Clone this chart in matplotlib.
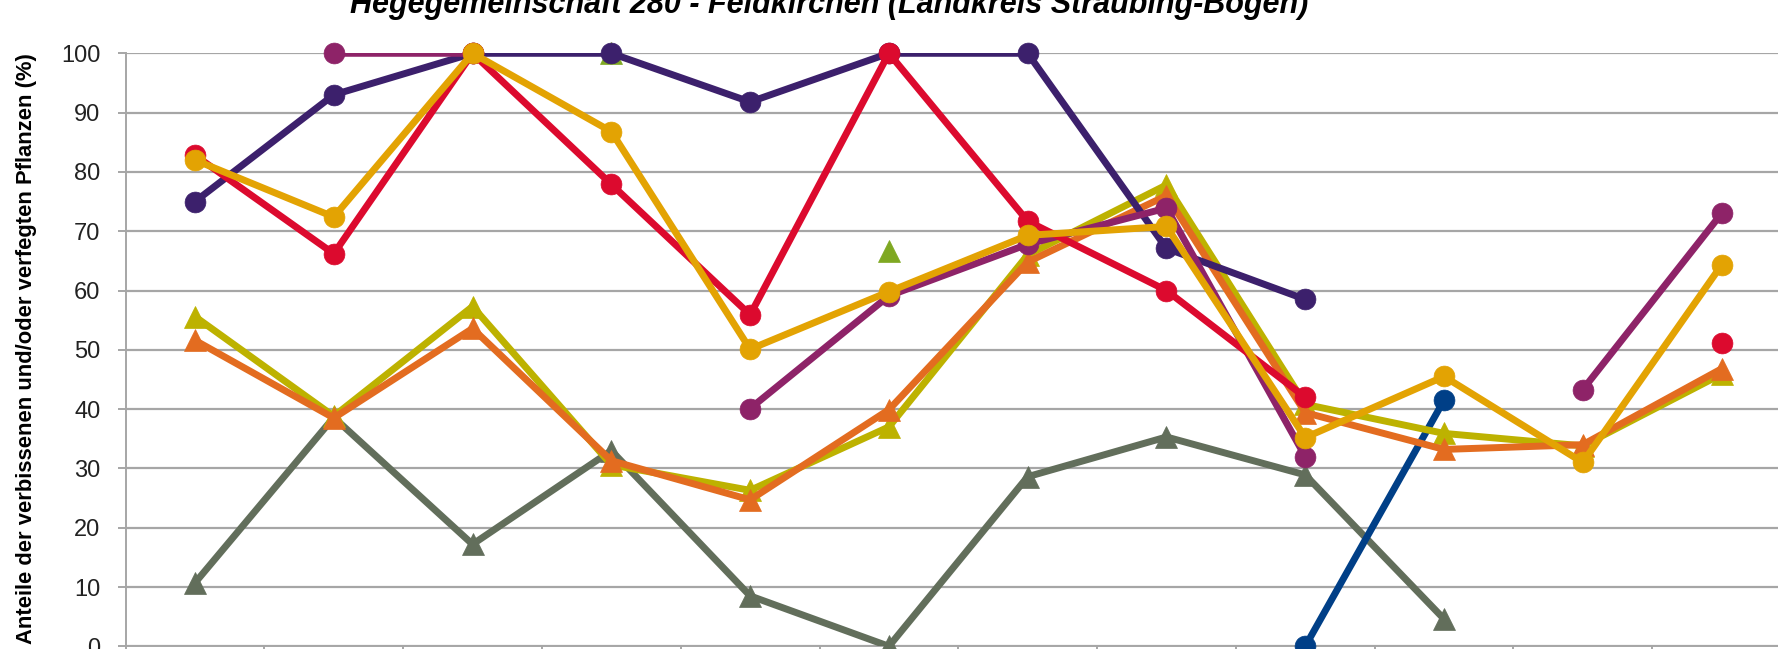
import numpy as np
import matplotlib
matplotlib.use("Agg")
import matplotlib.pyplot as plt
from matplotlib import font_manager as fm

nan = np.nan

# ---- data ----
categories = list(range(1, 13))
dark_purple = [75.0, 93.0, 100, 100, 91.8, 100, 100, 67.1, 58.5, nan, nan, nan]
red = [82.8, 66.2, 100, 77.9, 55.9, 100, 71.7, 60.0, 42.0, nan, nan, 51.1]
magenta = [nan, 100, 100, nan, 40.1, 59.1, 67.8, 73.9, 32.0, nan, 43.3, 73.0]
green = [nan, nan, nan, 100, nan, 66.7, nan, nan, nan, nan, nan, nan]
olive = [55.6, 38.8, 57.3, 30.6, 26.3, 37.0, 66.0, 77.8, 40.8, 35.9, 33.8, 45.9]
orange = [51.6, 38.5, 53.6, 31.3, 24.7, 39.9, 64.8, 76.0, 39.4, 33.2, 34.0, 46.8]
gold = [82.0, 72.4, 100, 86.8, 50.1, 59.8, 69.3, 70.8, 35.2, 45.5, 31.0, 64.3]
gray = [10.7, 38.6, 17.2, 33.0, 8.5, 0.0, 28.6, 35.3, 28.9, 4.6, nan, nan]
blue = [nan, nan, nan, nan, nan, nan, nan, nan, 0.0, 41.5, nan, nan]
yticks = [0, 10, 20, 30, 40, 50, 60, 70, 80, 90, 100]
title = "Hegegemeinschaft 280 - Feldkirchen (Landkreis Straubing-Bogen)"
ylabel = "Anteile der verbissenen und/oder verfegten Pflanzen (%)"


def pick(cands):
    for c in cands:
        try:
            fm.findfont(fm.FontProperties(family=c), fallback_to_default=False)
            return c
        except Exception:
            pass
    return "DejaVu Sans"


regular = pick(["Liberation Sans", "DejaVu Sans"])

W, H = 1778, 649
fig = plt.figure(figsize=(W / 100, H / 100), dpi=100)
left_px, right_px = 125.6, 1791.0
top_px, bot_px = 53.3, 646.3
ax = fig.add_axes([left_px / W, (H - bot_px) / H,
                   (right_px - left_px) / W, (bot_px - top_px) / H])

x = np.arange(len(categories))
ax.set_xlim(-0.5, len(categories) - 0.5)
ax.set_ylim(0, 100)

grid_c = "#A6A6A6"
ax.set_yticks(yticks)
ax.yaxis.grid(True, color=grid_c, linewidth=1.6, zorder=0)
ax.set_axisbelow(True)
for s in ["top", "right"]:
    ax.spines[s].set_visible(False)
for s in ["left", "bottom"]:
    ax.spines[s].set_color(grid_c)
    ax.spines[s].set_linewidth(1.4)
ax.tick_params(axis="y", length=6, width=1.4, color=grid_c, pad=12,
               labelsize=17, labelcolor="#222222")
for lab in ax.get_yticklabels():
    lab.set_family(regular)
ax.set_xticks(np.arange(len(categories) + 1) - 0.5)
ax.set_xticklabels([])
ax.tick_params(axis="x", length=8, width=1.4, color=grid_c)

lw = 5.0
series = [
    (green, "#7FA822", "^", 16.5),
    (gray, "#626E5B", "^", 16.5),
    (blue, "#003F87", "o", 15),
    (olive, "#BDB200", "^", 16.5),
    (orange, "#E36C20", "^", 16.5),
    (dark_purple, "#3C206C", "o", 15),
    (magenta, "#8E2368", "o", 15),
    (red, "#DC0A2E", "o", 15),
    (gold, "#E3A303", "o", 15),
]
for i, (vals, col, mk, ms) in enumerate(series):
    z = 3 + i * 0.1
    v = np.array(vals, dtype=float)
    ax.plot(x, v, color=col, linewidth=lw, solid_joinstyle="miter",
            zorder=z, clip_on=True)
    ax.plot(x, v, linestyle="none", marker=mk, markersize=ms,
            markerfacecolor=col, markeredgecolor=col, markeredgewidth=0.5,
            zorder=z + 0.05, clip_on=False)

# y label
fig.text(27 / W, 1 - 349 / H, ylabel, rotation=90, ha="center", va="center",
         fontsize=15.8, fontweight="bold", family=regular)

# title (partially cropped at top)
fig.text(829 / W, 1 - 12.5 / H, title, ha="center", va="baseline",
         fontsize=22, fontweight="bold", fontstyle="italic", family=regular)

fig.savefig("out.png", dpi=100)
